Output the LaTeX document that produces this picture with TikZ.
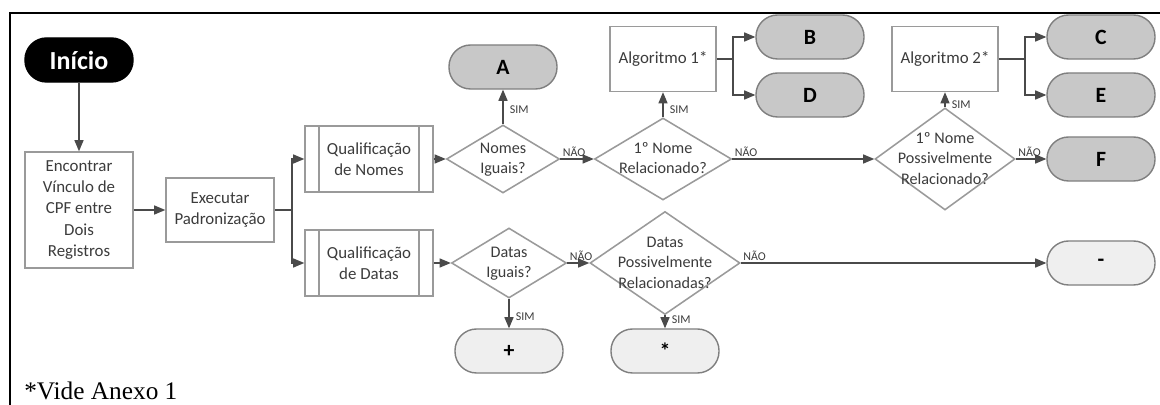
\documentclass[tikz,border=0pt]{standalone}
\usepackage{fontspec}
\setmainfont{Carlito}
\newfontfamily\timesfont{Liberation Serif}
\usepackage{tikz}
\usetikzlibrary{arrows,positioning,shapes,calc}
\definecolor{BoxLine}{HTML}{9A9A9A}
\definecolor{PillLine}{HTML}{7F7F7F}
\definecolor{PillFill}{HTML}{C8C8C8}
\definecolor{EndFill}{HTML}{EFEFEF}
\definecolor{TextGray}{HTML}{3C3C3C}
\definecolor{LinkGray}{HTML}{4A4A4A}
\tikzstyle{link} = [>=triangle 45, draw=LinkGray, line width=0.8pt]
\tikzstyle{process} = [rectangle, draw=BoxLine, line width=1.1pt, fill=white,
text=TextGray, align=center, inner sep=2pt,
font=\fontsize{12}{15}\selectfont]
\tikzstyle{subprocess} = [process, minimum width=3.2cm, minimum height=1.65cm]
\tikzstyle{decision} = [diamond, draw=BoxLine, line width=1.1pt, fill=white,
inner sep=0pt, text=TextGray,
font=\fontsize{11.5}{14.5}\selectfont]
\tikzstyle{terminal} = [rectangle, rounded corners=0.54cm, draw=PillLine, line width=1pt,
fill=PillFill, minimum width=2.7cm, minimum height=1.1cm,
font=\fontsize{15.5}{18}\selectfont\bfseries]
\tikzstyle{end terminal} = [terminal, fill=EndFill]
\tikzstyle{begin terminal} = [terminal, draw=black, fill=black, text=white,
font=\fontsize{18.5}{22}\selectfont\bfseries]
\tikzstyle{answer} = [font=\fontsize{8.5}{10}\selectfont, text=TextGray, inner sep=1.5pt]
\newcommand{\dtext}[1]{\smash{\makebox[0pt]{\raisebox{-0.3em}{\begin{tabular}{@{}c@{}}#1\end{tabular}}}}}

\begin{document}
\begin{tikzpicture}[x=0.025cm, y=-0.025cm]
	\useasboundingbox (0,0) rectangle (1160,405);
	\draw[line width=1.6pt] (10,405) -- (10,13) -- (1160,13);

	\node[begin terminal] (inicio) at (79,60){Início};
	\node[process, minimum width=2.7cm, minimum height=2.9cm] (encontrar) at (79,210){Encontrar\\Vínculo de\\CPF entre\\Dois\\Registros};
	\node[process, minimum width=2.7cm, minimum height=1.6cm] (executar) at (220,210){Executar\\Padronização};
	\coordinate (split1) at (292,210);

	\node[subprocess] (qnomes) at (369,159){Qualificação\\de Nomes};
	\node[subprocess] (qdatas) at (369,263){Qualificação\\de Datas};
	\foreach \n in {qnomes,qdatas}{
		\draw[draw=BoxLine, line width=1.1pt] ([xshift=0.375cm]\n.north west) -- ([xshift=0.375cm]\n.south west);
		\draw[draw=BoxLine, line width=1.1pt] ([xshift=-0.375cm]\n.north east) -- ([xshift=-0.375cm]\n.south east);
	}

	\node[decision, minimum width=2.825cm, minimum height=1.7cm] (nomesiguais) at (503,159){\dtext{Nomes\\Iguais?}};
	\node[terminal] (a) at (503,67){A};
	\node[decision, minimum width=3.425cm, minimum height=2.05cm] (rel1) at (663,159){\dtext{1º Nome\\Relacionado?}};
	\node[process, minimum width=2.65cm, minimum height=1.625cm] (alg1) at (663,59){Algoritmo 1*};
	\coordinate (split2) at (733,59);
	\node[terminal] (b) at (810,37){B};
	\node[terminal] (d) at (810,95){D};
	\node[decision, minimum width=3.5cm, minimum height=2.55cm] (pos1) at (945,159){\dtext{1º Nome\\Possivelmente\\Relacionado?}};
	\node[process, minimum width=2.65cm, minimum height=1.625cm] (alg2) at (945,59){Algoritmo 2*};
	\coordinate (split3) at (1025,59);
	\node[terminal] (c) at (1101,37){C};
	\node[terminal] (e) at (1101,95){E};
	\node[terminal] (f) at (1101,159){F};

	\node[decision, minimum width=2.875cm, minimum height=1.75cm] (datasiguais) at (509,263){\dtext{Datas\\Iguais?}};
	\node[end terminal] (mais) at (509,351){+};
	\node[decision, minimum width=3.75cm, minimum height=2.575cm] (datasrel) at (665,263){\dtext{Datas\\Possivelmente\\Relacionadas?}};
	\node[end terminal] (aster) at (665,351){*};
	\node[end terminal] (menos) at (1101,263){-};

	\node[anchor=base west, inner sep=0pt, font=\timesfont\fontsize{18}{20}\selectfont] (anexo) at (24,400){*Vide Anexo 1};

	\draw[link, ->] (inicio) -- (encontrar);
	\draw[link, ->] (encontrar) -- (executar);
	\draw[link] (executar) -- (split1);
	\draw[link, ->] (split1) |- (qnomes);
	\draw[link, ->] (split1) |- (qdatas);

	\draw[link, ->] (qnomes) -- (nomesiguais);
	\draw[link, ->] (nomesiguais) -- node[answer, right=3pt, pos=0.42]{SIM} (a);
	\draw[link, ->] (nomesiguais) -- node[answer, above right, pos=0]{NÃO} (rel1);
	\draw[link, ->] (rel1) -- node[answer, right=3pt, pos=0.3]{SIM} (alg1);
	\draw[link, ->] (rel1) -- node[answer, above right, pos=0]{NÃO} (pos1);
	\draw[link] (alg1) -- (split2);
	\draw[link, ->] (split2) |- (b);
	\draw[link, ->] (split2) |- (d);
	\draw[link, ->] (pos1) -- node[answer, right=3pt, pos=0.15]{SIM} (alg2);
	\draw[link, ->] (pos1) -- node[answer, above right, pos=0]{NÃO} (f);
	\draw[link] (alg2) -- (split3);
	\draw[link, ->] (split3) |- (c);
	\draw[link, ->] (split3) |- (e);

	\draw[link, ->] (qdatas) -- (datasiguais);
	\draw[link, ->] (datasiguais) -- node[answer, right=3pt, pos=0.6]{SIM} (mais);
	\draw[link, ->] (datasiguais) -- node[answer, above right, pos=0]{NÃO} (datasrel);
	\draw[link, ->] (datasrel) -- node[answer, right=3pt, pos=0.35]{SIM} (aster);
	\draw[link, ->] (datasrel) -- node[answer, above right, pos=0]{NÃO} (menos);
\end{tikzpicture}
\end{document}
